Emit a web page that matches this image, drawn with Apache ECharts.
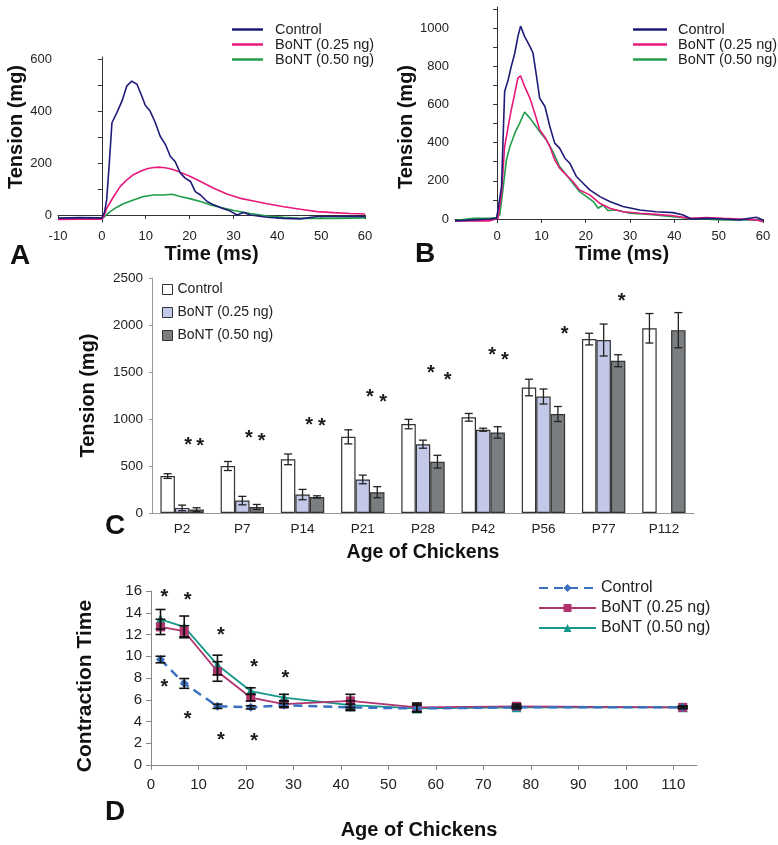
<!DOCTYPE html>
<html>
<head>
<meta charset="utf-8">
<script src="https://cdn.jsdelivr.net/npm/echarts@6/dist/echarts.min.js"></script>
<style>
html, body { margin: 0; padding: 0; background: #fff; }
#main { width: 778px; height: 845px; }
</style>
</head>
<body>
<div id="main"></div>
<script>
// panel A: twitch traces [time ms, tension mg]
var aControl = [[-10,-12],[-5,-10],[0,-11],[0.6,10],[1.1,58],[1.7,200],[2.3,355],[3.4,393],[4.6,439],[5.7,497],[6.8,515],[8.0,503],[9.1,458],[9.9,422],[11,400],[12.2,355],[13.3,303],[14.5,271],[15.6,226],[16.7,206],[17.9,161],[19,142],[20.2,129],[21.3,90],[22.5,77],[24,52],[25.5,39],[27.4,26],[29.3,15],[30.8,0],[32.3,10],[33.9,0],[37.7,-9],[41.5,-13],[45.3,-15],[49.1,-6],[52.9,-6],[60,-6]];
var aLow = [[-10,-17],[-5,-16],[0,-16],[0.5,-5],[1.1,26],[2.7,71],[4.2,110],[5.7,135],[7.2,155],[8.8,168],[10.3,178],[11.8,183],[13.3,184],[14.8,181],[16.4,174],[17.9,164],[20.2,148],[22.5,129],[25.5,103],[28.5,81],[31.6,64],[34.6,54],[37.7,43],[41.5,32],[45.3,22],[49.1,13],[52.9,9],[56.6,6],[60,4]];
var aHigh = [[-10,-15],[-5,-14],[0,-15],[0.4,-10],[1.9,13],[3.4,30],[4.9,43],[7.2,58],[9.5,71],[11.8,77],[14.1,77],[16,80],[17.9,71],[20.2,62],[22.5,52],[24.7,39],[27,30],[30.1,17],[33.9,6],[37.7,-4],[41.5,-9],[45.3,-13],[52.9,-13],[60,-11]];

// panel B
var bControl = [[-9.5,-10],[-5.4,-5],[-1.7,0],[-0.15,3],[0.2,47],[1,170],[1.7,668],[2.5,729],[3.2,799],[4,869],[4.7,956],[5.3,1010],[6.2,956],[7.4,904],[8.1,869],[8.9,747],[9.6,633],[10.8,589],[11.9,484],[13,397],[14.1,371],[15.3,318],[16.4,292],[17.9,222],[19.4,187],[20.9,152],[23.2,117],[25.4,91],[28.4,65],[32.2,47],[35.9,38],[39.7,33],[42,21],[43.8,0],[47.2,3],[51,0],[54.7,-5],[58.5,9],[60,-5]];
var bLow = [[-9.5,-10],[-1.7,-10],[0.2,3],[1,135],[1.7,379],[2.5,484],[3.2,572],[4,659],[4.7,738],[5.3,750],[6.2,694],[7.4,633],[8.5,554],[9.6,467],[10.8,428],[11.9,379],[13,309],[14.1,266],[15.6,231],[17.1,196],[18.6,152],[20.9,126],[23.2,82],[25.4,56],[28.4,38],[32.2,30],[35.9,24],[39.7,17],[43.5,3],[47.2,7],[51,3],[54.7,0],[58.5,-5],[60,-14]];
var bHigh = [[-9.5,-9],[-5.4,3],[-1.7,3],[-0.15,7],[0.6,21],[1.4,170],[2.1,309],[2.9,379],[4,449],[5.1,502],[6.2,560],[7.4,528],[8.5,493],[9.6,458],[11.1,414],[12.6,353],[14.1,274],[15.6,231],[17.1,187],[18.6,143],[20.2,117],[21.7,91],[22.8,56],[23.9,73],[25,44],[26.9,47],[29.9,30],[34.4,24],[39.7,12],[43.5,3],[51,-5],[58.5,-5],[60,-5]];

var traceNames = ['Control', 'BoNT (0.25 ng)', 'BoNT (0.50 ng)'];
var aYLabels = [0, 200, 400, 600];
var aYTicks = [0, 100, 200, 300, 400, 500, 600];
var bYLabels = [0, 200, 400, 600, 800, 1000];
var bYTicks = [0, 100, 200, 300, 400, 500, 600, 700, 800, 900, 1000, 1100];
var bXLabels = [0, 10, 20, 30, 40, 50, 60];

// panel C: tension by age
var ages = ['P2', 'P7', 'P14', 'P21', 'P28', 'P42', 'P56', 'P77', 'P112'];
var cControl = [393, 500, 571, 810, 946, 1018, 1335, 1850, 1965];
var cControlErr = [25, 48, 57, 75, 50, 41, 88, 62, 157];
var cLow = [54, 132, 196, 357, 732, 886, 1239, 1840, null];
var cLowErr = [30, 45, 55, 46, 43, 16, 80, 170, null];
var cHigh = [36, 64, 171, 221, 546, 857, 1053, 1620, 1945];
var cHighErr = [20, 27, 12, 59, 68, 61, 80, 64, 187];
// asterisks: [position in category bands, tension]
var cStars = [[0.60,768],[0.80,758],[1.61,846],[1.82,811],[2.61,989],[2.82,975],[3.62,1278],[3.84,1232],[4.63,1536],[4.91,1464],[5.65,1725],[5.86,1671],[6.85,1957],[7.8,2303]];

// panel D: contraction time
var dAges = [2, 7, 14, 21, 28, 42, 56, 77, 112];
var dControl = [9.7, 7.5, 5.4, 5.3, 5.5, 5.3, 5.2, 5.3, 5.3];
var dControlErr = [0.3, 0.45, 0.2, 0.15, 0.15, 0.3, 0.3, 0.1, 0.1];
var dLow = [12.7, 12.3, 8.6, 6.2, 5.6, 5.9, 5.3, 5.4, 5.3];
var dLowErr = [0.7, 0.5, 0.9, 0.3, 0.3, 0.6, 0.4, 0.2, 0.1];
var dHigh = [13.4, 12.7, 9.2, 6.8, 6.2, 5.5, 5.2, 5.3, 5.3];
var dHighErr = [0.9, 1.0, 0.9, 0.3, 0.3, 0.4, 0.3, 0.1, 0.1];
var dStars = [[2.8,15.9],[7.7,15.6],[14.7,12.4],[21.7,9.4],[28.3,8.4],[2.8,7.6],[7.7,4.6],[14.7,2.75],[21.7,2.6]];
var dXLabels = [0, 10, 20, 30, 40, 50, 60, 70, 80, 90, 100, 110];

var font = 'Liberation Sans, Arial, sans-serif';
var narrow = 'Liberation Sans Narrow, Liberation Sans, sans-serif';
var traceColors = ['#1f1b78', '#e8197c', '#1f9e4a'];
var barColors = ['#ffffff', '#c3c8e8', '#7b7e81'];
var dColors = ['#3b6fc0', '#b0336f', '#16988a'];

var chart = echarts.init(document.getElementById('main'));

function pref(p, list) {
    return list.map(function (n) { return p + ':' + n; });
}

function plain(v) { return String(v); }

function errTriple(vals, errs) {
    var out = [];
    vals.forEach(function (v, i) {
        if (v != null) out.push([i, v, errs[i]]);
    });
    return out;
}

function barErrSeries(vals, errs, slot) {
    return {
        type: 'custom', xAxisIndex: 2, yAxisIndex: 2, z: 5,
        data: errTriple(vals, errs),
        renderItem: function (params, api) {
            var i = api.value(0), v = api.value(1), e = api.value(2);
            var bw = api.size([1, 0])[0] * 0.72 / 3;
            var x = api.coord([i, v])[0] + (slot - 1) * bw;
            var top = api.coord([i, v + e])[1];
            var bot = api.coord([i, v - e])[1];
            var st = { stroke: '#222', lineWidth: 1.3 };
            return { type: 'group', children: [
                { type: 'line', shape: { x1: x, y1: top, x2: x, y2: bot }, style: st },
                { type: 'line', shape: { x1: x - 4, y1: top, x2: x + 4, y2: top }, style: st },
                { type: 'line', shape: { x1: x - 4, y1: bot, x2: x + 4, y2: bot }, style: st }
            ] };
        }
    };
}

function lineErrSeries(vals, errs) {
    return {
        type: 'custom', xAxisIndex: 4, yAxisIndex: 3, z: 6,
        data: vals.map(function (v, i) { return [dAges[i], v, errs[i]]; }),
        renderItem: function (params, api) {
            var x = api.value(0), v = api.value(1), e = api.value(2);
            var p = api.coord([x, v + e]);
            var q = api.coord([x, v - e]);
            var st = { stroke: '#111', lineWidth: 1.6 };
            return { type: 'group', children: [
                { type: 'line', shape: { x1: p[0], y1: p[1], x2: q[0], y2: q[1] }, style: st },
                { type: 'line', shape: { x1: p[0] - 5, y1: p[1], x2: p[0] + 5, y2: p[1] }, style: st },
                { type: 'line', shape: { x1: q[0] - 5, y1: q[1], x2: q[0] + 5, y2: q[1] }, style: st }
            ] };
        }
    };
}

function starSeries(data, xi, yi) {
    return {
        type: 'custom', xAxisIndex: xi, yAxisIndex: yi, z: 7,
        data: data,
        renderItem: function (params, api) {
            var p = api.coord([api.value(0), api.value(1)]);
            return { type: 'text', x: p[0], y: p[1] + 5,
                style: { text: '*', fill: '#1a1a1a', font: 'bold 20px ' + font, align: 'center', verticalAlign: 'middle' } };
        }
    };
}

function traceSeries(p, data, k, xi, yi) {
    return {
        name: p + ':' + traceNames[k], type: 'line', xAxisIndex: xi, yAxisIndex: yi,
        data: data, symbol: 'none', z: 3 - k,
        lineStyle: { color: traceColors[k], width: 1.6 }, itemStyle: { color: traceColors[k] }
    };
}

var axisCol = '#333';
var tickLabel = { color: '#222', fontFamily: font, fontSize: 13 };
var bigTitle = { color: '#111', fontFamily: font, fontWeight: 'bold', fontSize: 20 };

var option = {
    animation: false,
    backgroundColor: '#fff',
    grid: [
        { left: 58, top: 57, width: 307, height: 165 },
        { left: 455, top: 7, width: 308, height: 215 },
        { left: 152, top: 278, width: 542, height: 235 },
        { left: 151, top: 591, width: 546, height: 174 }
    ],
    legend: [
        { left: 227, top: 17, orient: 'vertical', selectedMode: false, icon: 'rect',
          data: pref('A', traceNames), formatter: function (n) { return n.split(':')[1]; },
          itemWidth: 31, itemHeight: 2.5, itemGap: 0,
          textStyle: { fontFamily: font, fontSize: 14.5, lineHeight: 15, color: '#222', padding: [0, 0, 0, 7] } },
        { left: 628, top: 17, orient: 'vertical', selectedMode: false, icon: 'rect',
          data: pref('B', traceNames), formatter: function (n) { return n.split(':')[1]; },
          itemWidth: 34, itemHeight: 2.5, itemGap: 0,
          textStyle: { fontFamily: font, fontSize: 14.5, lineHeight: 15, color: '#222', padding: [0, 0, 0, 6] } },
        { left: 157, top: 277, orient: 'vertical', selectedMode: false, icon: 'rect',
          data: pref('C', traceNames), formatter: function (n) { return n.split(':')[1]; },
          itemWidth: 10, itemHeight: 10, itemGap: 8,
          itemStyle: { borderColor: '#333', borderWidth: 1 },
          textStyle: { fontFamily: font, fontSize: 14, lineHeight: 15, color: '#222' } },
        { left: 533, top: 575, orient: 'vertical', selectedMode: false,
          data: pref('D', traceNames), formatter: function (n) { return n.split(':')[1]; },
          itemWidth: 57, itemHeight: 10, itemGap: 4,
          textStyle: { fontFamily: narrow, fontSize: 16, lineHeight: 16, color: '#222' } }
    ],
    xAxis: [
        { type: 'value', gridIndex: 0, min: -10, max: 60, interval: 10,
          name: 'Time (ms)', nameLocation: 'middle', nameGap: 22, nameTextStyle: bigTitle,
          axisLine: { lineStyle: { color: axisCol } }, axisTick: { length: 4, lineStyle: { color: axisCol } },
          axisLabel: Object.assign({ margin: 8 }, tickLabel), splitLine: { show: false } },
        { type: 'value', gridIndex: 1, min: -9.5, max: 60,
          name: 'Time (ms)', nameLocation: 'middle', nameGap: 22,
          nameTextStyle: Object.assign({ padding: [0, 0, 0, 26] }, bigTitle),
          axisLine: { lineStyle: { color: axisCol } },
          axisTick: { length: 4, lineStyle: { color: axisCol }, customValues: bXLabels },
          axisLabel: Object.assign({ margin: 8, customValues: bXLabels }, tickLabel), splitLine: { show: false } },
        { type: 'category', gridIndex: 2, data: ages,
          name: 'Age of Chickens', nameLocation: 'middle', nameGap: 30,
          nameTextStyle: Object.assign({}, bigTitle, { fontSize: 19.5 }),
          axisLine: { lineStyle: { color: '#999' } }, axisTick: { length: 4, lineStyle: { color: '#999' } },
          axisLabel: Object.assign({ margin: 9 }, tickLabel, { fontSize: 13.5 }) },
        { type: 'value', gridIndex: 2, min: 0, max: 9, show: false },
        { type: 'value', gridIndex: 3, min: 0, max: 115,
          name: 'Age of Chickens', nameLocation: 'middle', nameGap: 55,
          nameTextStyle: Object.assign({ padding: [0, 10, 0, 0] }, bigTitle),
          axisLine: { lineStyle: { color: '#888' } },
          axisTick: { length: 5, lineStyle: { color: '#888' }, customValues: dXLabels },
          axisLabel: { customValues: dXLabels, margin: 12, color: '#222', fontFamily: narrow, fontSize: 15 },
          splitLine: { show: false } }
    ],
    yAxis: [
        { type: 'value', gridIndex: 0, min: -27, max: 608,
          name: 'Tension (mg)', nameLocation: 'middle', nameGap: 30, nameRotate: 90,
          nameTextStyle: Object.assign({ padding: [0, 0, 0, 25] }, bigTitle),
          axisLine: { show: true, lineStyle: { color: axisCol } },
          axisTick: { show: true, length: 4, lineStyle: { color: axisCol }, customValues: aYTicks },
          axisLabel: Object.assign({ margin: 6, customValues: aYLabels, formatter: plain }, tickLabel), splitLine: { show: false } },
        { type: 'value', gridIndex: 1, min: -16, max: 1110,
          name: 'Tension (mg)', nameLocation: 'middle', nameGap: 18, nameRotate: 90,
          nameTextStyle: Object.assign({ padding: [0, 25, 0, 0] }, bigTitle),
          axisLine: { show: true, lineStyle: { color: axisCol } },
          axisTick: { show: true, length: 4, lineStyle: { color: axisCol }, customValues: bYTicks },
          axisLabel: Object.assign({ margin: 6, customValues: bYLabels, formatter: plain }, tickLabel), splitLine: { show: false } },
        { type: 'value', gridIndex: 2, min: 0, max: 2500, interval: 500,
          name: 'Tension (mg)', nameLocation: 'middle', nameGap: 54, nameRotate: 90, nameTextStyle: bigTitle,
          axisLine: { show: true, lineStyle: { color: '#999' } },
          axisTick: { show: true, length: 3, lineStyle: { color: '#999' } },
          axisLabel: Object.assign({ margin: 9, formatter: plain }, tickLabel, { fontSize: 13.5 }), splitLine: { show: false } },
        { type: 'value', gridIndex: 3, min: 0, max: 16, interval: 2,
          name: 'Contraction Time', nameLocation: 'middle', nameGap: 55, nameRotate: 90,
          nameTextStyle: Object.assign({ padding: [0, 16, 0, 0] }, bigTitle, { fontSize: 21 }),
          axisLine: { show: true, lineStyle: { color: '#888' } },
          axisTick: { show: true, length: 5, lineStyle: { color: '#888' } },
          axisLabel: { margin: 9, color: '#222', fontFamily: narrow, fontSize: 15 }, splitLine: { show: false } }
    ],
    graphic: [
        { type: 'text', left: 10, top: 242, style: { text: 'A', font: 'bold 28px ' + font, fill: '#111' } },
        { type: 'text', left: 415, top: 240, style: { text: 'B', font: 'bold 28px ' + font, fill: '#111' } },
        { type: 'text', left: 105, top: 512, style: { text: 'C', font: 'bold 28px ' + font, fill: '#111' } },
        { type: 'text', left: 105, top: 798, style: { text: 'D', font: 'bold 28px ' + font, fill: '#111' } }
    ],
    series: [
        traceSeries('A', aControl, 0, 0, 0),
        traceSeries('A', aLow, 1, 0, 0),
        traceSeries('A', aHigh, 2, 0, 0),
        traceSeries('B', bControl, 0, 1, 1),
        traceSeries('B', bLow, 1, 1, 1),
        traceSeries('B', bHigh, 2, 1, 1),
        { name: 'C:' + traceNames[0], type: 'bar', xAxisIndex: 2, yAxisIndex: 2, data: cControl,
          barGap: 0, barCategoryGap: '28%', itemStyle: { color: barColors[0], borderColor: '#333', borderWidth: 1.2 } },
        { name: 'C:' + traceNames[1], type: 'bar', xAxisIndex: 2, yAxisIndex: 2, data: cLow,
          barGap: 0, barCategoryGap: '28%', itemStyle: { color: barColors[1], borderColor: '#333', borderWidth: 1.2 } },
        { name: 'C:' + traceNames[2], type: 'bar', xAxisIndex: 2, yAxisIndex: 2, data: cHigh,
          barGap: 0, barCategoryGap: '28%', itemStyle: { color: barColors[2], borderColor: '#333', borderWidth: 1.2 } },
        barErrSeries(cControl, cControlErr, 0),
        barErrSeries(cLow, cLowErr, 1),
        barErrSeries(cHigh, cHighErr, 2),
        starSeries(cStars, 3, 2),
        { name: 'D:' + traceNames[2], type: 'line', xAxisIndex: 4, yAxisIndex: 3,
          data: dHigh.map(function (v, i) { return [dAges[i], v]; }),
          symbol: 'triangle', symbolSize: 10, z: 3,
          lineStyle: { color: dColors[2], width: 1.8 }, itemStyle: { color: dColors[2] } },
        { name: 'D:' + traceNames[1], type: 'line', xAxisIndex: 4, yAxisIndex: 3,
          data: dLow.map(function (v, i) { return [dAges[i], v]; }),
          symbol: 'rect', symbolSize: 9, z: 3,
          lineStyle: { color: dColors[1], width: 1.8 }, itemStyle: { color: dColors[1] } },
        { name: 'D:' + traceNames[0], type: 'line', xAxisIndex: 4, yAxisIndex: 3,
          data: dControl.map(function (v, i) { return [dAges[i], v]; }),
          symbol: 'diamond', symbolSize: 9, z: 4,
          lineStyle: { color: dColors[0], width: 2.5, type: [9, 6] }, itemStyle: { color: dColors[0] } },
        lineErrSeries(dControl, dControlErr),
        lineErrSeries(dLow, dLowErr),
        lineErrSeries(dHigh, dHighErr),
        starSeries(dStars, 4, 3)
    ]
};

chart.setOption(option);
</script>
</body>
</html>
